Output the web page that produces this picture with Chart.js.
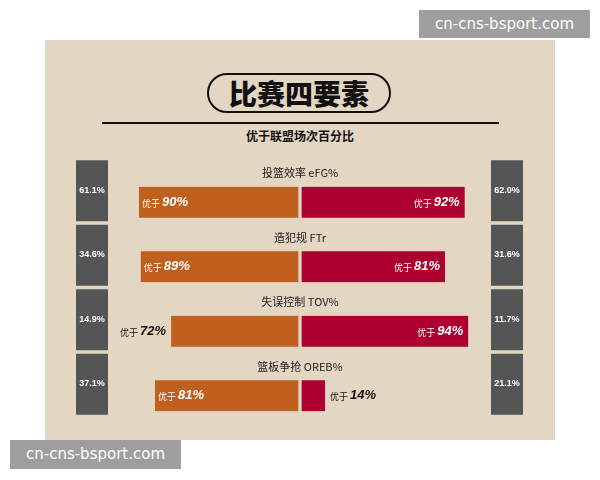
<!DOCTYPE html>
<html><head><meta charset="utf-8">
<script src="https://cdn.jsdelivr.net/npm/chart.js@4"></script>
<style>
body{margin:0;width:600px;height:480px;background:#fff;position:relative;overflow:hidden;font-family:"Noto Sans CJK SC",sans-serif}
#panel{position:absolute;left:45px;top:40px;width:510px;height:400px;background:#e3d6c2}
#pill{position:absolute;left:207px;top:73px;width:180px;height:36px;border:2.5px solid #111;border-radius:20px;text-align:center;font-size:28px;font-weight:900;line-height:36px;color:#111}
#rule{position:absolute;left:102px;top:122px;width:397px;height:2px;background:#111}
#sub{position:absolute;left:0;width:600px;top:127px;text-align:center;font-size:12px;font-weight:bold;color:#111}
.wm{position:absolute;background:#9e9e9e;color:#fff;font-family:"DejaVu Sans",sans-serif;font-size:15px;line-height:28px;text-align:center}
canvas{position:absolute;left:0;top:0}
</style></head><body>
<div id="panel"></div>
<div id="pill">比赛四要素</div>
<div id="rule"></div>
<div id="sub">优于联盟场次百分比</div>
<canvas id="c" width="600" height="480"></canvas>
<div class="wm" style="left:419px;top:10px;width:171px;height:28px">cn-cns-bsport.com</div>
<div class="wm" style="left:10px;top:440px;width:171px;height:29px">cn-cns-bsport.com</div>
<script>
const categories=["投篮效率 eFG%","造犯规 FTr","失误控制 TOV%","篮板争抢 OREB%"];
const leftPct=[90,89,72,81];
const rightPct=[92,81,94,14];
const leftStat=["61.1%","34.6%","14.9%","37.1%"];
const rightStat=["62.0%","31.6%","11.7%","21.1%"];
const BG='#e3d6c2';
function lbl(ctx,x,y,num,align,color){
  ctx.fillStyle=color;ctx.textBaseline='middle';
  ctx.font='bold italic 13px "Liberation Sans",sans-serif';
  const s=num+'%';const w1=ctx.measureText(s).width;
  ctx.font='9px "Noto Sans CJK SC"';const p='优于 ';const w0=ctx.measureText(p).width;
  let x0=align==='left'?x:x-w0-w1;
  ctx.textAlign='left';ctx.fillText(p,x0,y+1);
  ctx.font='bold italic 13px "Liberation Sans",sans-serif';ctx.fillText(s,x0+w0,y);
}
const deco={id:'deco',afterDatasetsDraw(ch){
  const ctx=ch.ctx,ys=ch.scales.y,xs=ch.scales.x;ctx.save();
  categories.forEach((c,i)=>{
    const y=ys.getPixelForValue(i);
    ctx.fillStyle='#555';ctx.fillRect(76,y-42,32,61);ctx.fillRect(491,y-42,32,61);
    ctx.fillStyle='#fff';ctx.font='bold 9px "Liberation Sans",sans-serif';ctx.textAlign='center';ctx.textBaseline='middle';
    ctx.fillText(leftStat[i],92,y-12);ctx.fillText(rightStat[i],507,y-12);
    ctx.fillStyle='#222';ctx.font='11px "Noto Sans CJK SC"';ctx.fillText(c,300,y-29);
    const lx=xs.getPixelForValue(-leftPct[i]),rx=xs.getPixelForValue(rightPct[i]);
    if(leftPct[i]>=80)lbl(ctx,lx+3,y,leftPct[i],'left','#fff');else lbl(ctx,lx-5,y,leftPct[i],'right','#111');
    if(rightPct[i]>=80)lbl(ctx,rx-5,y,rightPct[i],'right','#fff');else lbl(ctx,rx+5,y,rightPct[i],'left','#111');
  });ctx.restore();}};
new Chart(document.getElementById('c'),{type:'bar',
 data:{labels:categories,datasets:[
  {data:leftPct.map(v=>-v),backgroundColor:'#c0601e',borderColor:BG,borderWidth:{right:2},borderSkipped:false,barThickness:31},
  {data:rightPct,backgroundColor:'#ad0030',borderColor:BG,borderWidth:{left:2},borderSkipped:false,barThickness:31}]},
 options:{indexAxis:'y',responsive:false,animation:false,events:[],
  layout:{padding:{left:121,right:121,top:170,bottom:52}},
  plugins:{legend:{display:false},tooltip:{enabled:false}},
  scales:{x:{min:-100,max:100,stacked:true,display:false},y:{stacked:true,display:false}}},
 plugins:[deco]});
</script></body></html>
